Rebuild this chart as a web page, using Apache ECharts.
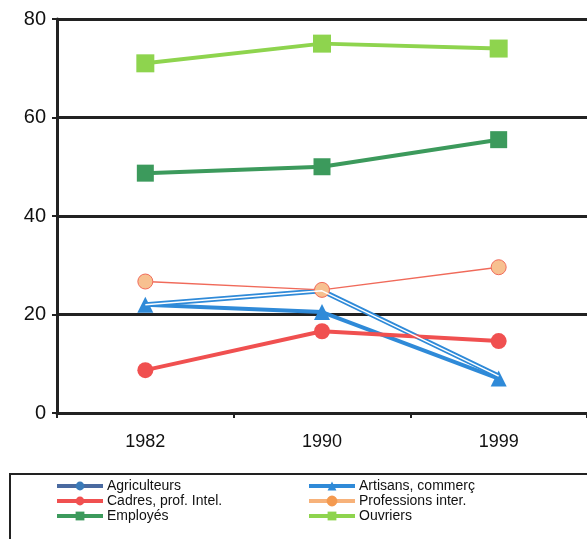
<!DOCTYPE html>
<html><head><meta charset="utf-8">
<script src="https://cdn.jsdelivr.net/npm/echarts@6/dist/echarts.min.js"></script>
<style>html,body{margin:0;padding:0;background:#fff}#c{width:587px;height:539px}</style>
</head><body><div id="c"></div>
<script>
const years = ['1982', '1990', '1999'];
const yTicks = [0, 20, 40, 60, 80];
const agriculteurs = [22, 24.8, 7.5];
const artisans = [22, 20.5, 7];
const cadres = [8.7, 16.6, 14.6];
const professions = [26.7, 25, 29.6];
const employes = [48.7, 50, 55.5];
const ouvriers = [71, 75, 74];

const font = 'Liberation Sans, Arial, sans-serif';
const chart = echarts.init(document.getElementById('c'), null, {renderer: 'canvas'});
function s(name, data, color, lineColor, symbol, size, width, extra) {
  return Object.assign({
    name, type: 'line', data, symbol, symbolSize: size,
    itemStyle: {color: color},
    lineStyle: {color: lineColor, width: width},
    z: 3
  }, extra || {});
}
const legendCommon = {
  orient: 'vertical', top: 474, itemGap: 1, itemWidth: 46, itemHeight: 11,
  lineStyle: {width: 4},
  textStyle: {fontFamily: font, fontSize: 14, color: '#111', padding: [0, 0, 0, -1]}
};
chart.setOption({
  animation: false,
  grid: {left: 57, right: -4, top: 19, bottom: 126, containLabel: false},
  xAxis: {
    type: 'category', data: years, boundaryGap: true,
    axisLine: {lineStyle: {color: '#222', width: 3}},
    axisTick: {show: true, inside: false, length: 5, lineStyle: {color: '#222', width: 2}},
    axisLabel: {color: '#111', fontFamily: font, fontSize: 18, margin: 20}
  },
  yAxis: {
    type: 'value', min: yTicks[0], max: yTicks[yTicks.length - 1], interval: 20,
    axisLine: {show: true, lineStyle: {color: '#222', width: 3}},
    axisTick: {show: true, length: 5, lineStyle: {color: '#222', width: 2}},
    splitLine: {lineStyle: {color: '#222', width: 3}},
    axisLabel: {color: '#111', fontFamily: font, fontSize: 20, margin: 11}
  },
  legend: [Object.assign({
    data: [
      {name: 'Agriculteurs', lineStyle: {color: '#4a6aa0'}, itemStyle: {color: '#3a7ab8'}},
      'Cadres, prof. Intel.', 'Employés'], left: 50
  }, legendCommon), Object.assign({
    data: [
      'Artisans, commerç',
      {name: 'Professions inter.', lineStyle: {color: '#f7b27a'}, itemStyle: {color: '#f49a50', borderColor: '#f49a50'}},
      'Ouvriers'], left: 302
  }, legendCommon)],
  graphic: [{
    type: 'rect', shape: {x: 10, y: 474, width: 590, height: 80},
    style: {fill: 'none', stroke: '#222', lineWidth: 2}, z: 0
  }],
  series: [
    s('Agriculteurs', agriculteurs, '#4a6aa0', '#2f8ad8', 'none', 1, 5, {}),
    {name: 'Agriculteurs-inner', type: 'line', data: agriculteurs, symbol: 'none',
     lineStyle: {color: '#ffffff', width: 1.5}, z: 4, silent: true},
    s('Artisans, commerç', artisans, '#2f8ad8', '#2f8ad8', 'triangle', 16, 4),
    s('Cadres, prof. Intel.', cadres, '#f05050', '#f05050', 'circle', 16, 4),
    s('Professions inter.', professions, '#f7b27a', '#f06a5a', 'circle', 15, 1.5,
      {itemStyle: {color: '#f7c090', borderColor: '#f06a5a', borderWidth: 1}}),
    s('Employés', employes, '#3c9a5c', '#3c9a5c', 'rect', 17, 4),
    s('Ouvriers', ouvriers, '#8ed44e', '#8ed44e', 'rect', 18, 4)
  ]
});
</script></body></html>
